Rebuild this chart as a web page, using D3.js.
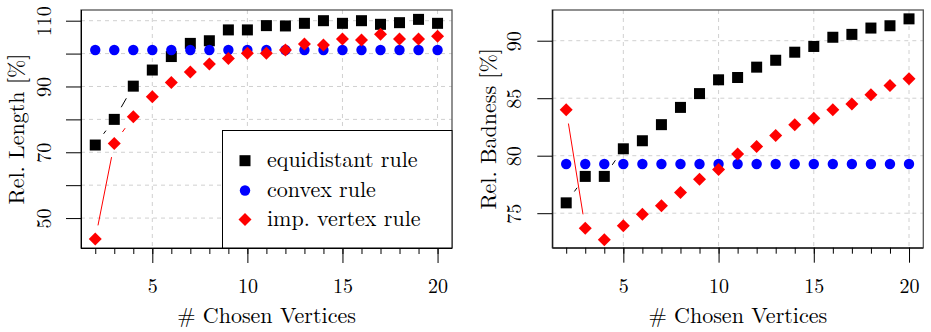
<!DOCTYPE html>
<html>
<head>
<meta charset="utf-8">
<script src="https://cdn.jsdelivr.net/npm/d3@7.9.0/dist/d3.min.js"></script>
<style>
  body { margin: 0; background: #fff; }
</style>
</head>
<body>
<svg id="chart" width="931" height="332"></svg>
<script>
// x values shared by both panels
const vertices = d3.range(2, 21);

// Left panel: Rel. Length [%]
const lengthEquidistant = [72.2, 80.0, 90.1, 95.0, 99.1, 103.1, 103.9, 107.2, 107.2, 108.5,
                           108.4, 109.2, 110.0, 109.2, 110.0, 108.9, 109.4, 110.4, 109.2];
const lengthConvex = [101.1, 101.1, 101.1, 101.1, 101.1, 101.1, 101.1, 101.1, 101.1, 101.1,
                      101.1, 101.1, 101.1, 101.1, 101.1, 101.1, 101.1, 101.1, 101.1];
const lengthImpVertex = [43.6, 72.7, 80.8, 86.9, 91.2, 94.4, 96.8, 98.5, 100.1, 100.1,
                         101.1, 102.9, 102.6, 104.4, 104.1, 105.9, 104.4, 104.4, 105.3];

// Right panel: Rel. Badness [%]
const badnessEquidistant = [75.9, 78.2, 78.2, 80.6, 81.3, 82.7, 84.2, 85.4, 86.6, 86.8,
                            87.7, 88.3, 89.0, 89.5, 90.3, 90.55, 91.1, 91.3, 91.9];
const badnessConvex = [79.28, 79.28, 79.28, 79.28, 79.28, 79.28, 79.28, 79.28, 79.28, 79.28,
                       79.28, 79.28, 79.28, 79.28, 79.28, 79.28, 79.28, 79.28, 79.28];
const badnessImpVertex = [84.0, 73.7, 72.7, 73.9, 74.9, 75.65, 76.8, 77.95, 78.8, 80.15,
                          80.8, 81.75, 82.7, 83.25, 84.0, 84.5, 85.3, 86.1, 86.7];

const xTicks = [5, 10, 15, 20];
const lengthTicks = [50, 60, 70, 80, 90, 100, 110];
const lengthLabels = [50, 70, 90, 110];
const badnessTicks = [75, 80, 85, 90];

const seriesNames = ["equidistant rule", "convex rule", "imp. vertex rule"];
const seriesColors = ["#000000", "#0000ff", "#ff0000"];
const seriesShapes = ["square", "circle", "diamond"];

const serif = "Latin Modern Roman, Liberation Serif, serif";
const svg = d3.select("#chart");

function setFont(sel, size) {
    return sel.attr("font-family", serif).attr("font-size", size)
        .style("font-family", serif).style("font-size", size + "px");
}

function marker(g, shape, color, x, y) {
    if (shape === "square") {
        g.append("rect")
            .attr("x", x - 5.5).attr("y", y - 5.5)
            .attr("width", 11).attr("height", 11)
            .attr("fill", color);
    } else if (shape === "circle") {
        g.append("circle")
            .attr("cx", x).attr("cy", y).attr("r", 5.2)
            .attr("fill", color);
    } else {
        g.append("path")
            .attr("d", `M${x},${y - 6.5}L${x + 6.5},${y}L${x},${y + 6.5}L${x - 6.5},${y}Z`)
            .attr("fill", color);
    }
}

function drawPanel(opts) {
    const x = d3.scaleLinear().domain(opts.xDomain).range([opts.left, opts.right]);
    const y = d3.scaleLinear().domain(opts.yDomain).range([opts.bottom, opts.top]);
    const g = svg.append("g");

    // Grid
    g.selectAll(".vgrid").data(xTicks).enter().append("line")
        .attr("x1", d => x(d)).attr("x2", d => x(d))
        .attr("y1", opts.top).attr("y2", opts.bottom)
        .attr("stroke", "#d0d0d0").attr("stroke-dasharray", "4,4");
    g.selectAll(".hgrid").data(opts.yTicks).enter().append("line")
        .attr("x1", opts.left).attr("x2", opts.right)
        .attr("y1", d => y(d)).attr("y2", d => y(d))
        .attr("stroke", "#d0d0d0").attr("stroke-dasharray", "4,4");

    // Box
    g.append("rect")
        .attr("x", opts.left).attr("y", opts.top)
        .attr("width", opts.right - opts.left).attr("height", opts.bottom - opts.top)
        .attr("fill", "none").attr("stroke", "#555").attr("stroke-width", 1.3);

    // X axis: minor ticks at every integer, longer ones at 5,10,15,20
    const xAxisMinor = d3.axisBottom(x).tickValues(vertices).tickSize(6).tickFormat("");
    g.append("g").attr("transform", `translate(0,${opts.bottom})`).call(xAxisMinor)
        .call(a => a.select(".domain").remove());
    const xAxis = d3.axisBottom(x).tickValues(xTicks).tickSize(15).tickPadding(16);
    const xa = g.append("g").attr("transform", `translate(0,${opts.bottom})`).call(xAxis);
    xa.select(".domain").attr("d", `M${opts.left},0.5H${opts.right}`);
    setFont(xa, 20);
    setFont(xa.selectAll("text"), 20);

    // Y axis
    const yAxis = d3.axisLeft(y).tickValues(opts.yTicks).tickSize(15)
        .tickFormat(d => opts.yLabels.includes(d) ? d : "");
    const ya = g.append("g").attr("transform", `translate(${opts.left},0)`).call(yAxis);
    ya.select(".domain").attr("d", `M0.5,${opts.top}V${opts.bottom}`);
    setFont(ya, 20);
    setFont(ya.selectAll("text"), 20)
        .attr("text-anchor", "middle")
        .attr("x", null).attr("dy", null)
        .attr("transform", `translate(${-opts.labelOffset},0) rotate(-90)`);

    // Axis titles
    setFont(g.append("text"), 22)
        .attr("x", (opts.left + opts.right) / 2).attr("y", 323)
        .attr("text-anchor", "middle")
        .text("# Chosen Vertices");
    setFont(g.append("text"), 22)
        .attr("transform", `translate(${opts.titleX},${(opts.top + opts.bottom) / 2}) rotate(-90)`)
        .attr("text-anchor", "middle")
        .text(opts.yTitle);

    // Series: R type "b" — lines with gaps around the points
    const gap = 14;
    opts.series.forEach((vals, i) => {
        const pts = vals.map((v, j) => [x(vertices[j]), y(v)]);
        for (let j = 0; j < pts.length - 1; j++) {
            const [x0, y0] = pts[j], [x1, y1] = pts[j + 1];
            const len = Math.hypot(x1 - x0, y1 - y0);
            if (len <= 2 * gap) continue;
            const ux = (x1 - x0) / len, uy = (y1 - y0) / len;
            g.append("line")
                .attr("x1", x0 + ux * gap).attr("y1", y0 + uy * gap)
                .attr("x2", x1 - ux * gap).attr("y2", y1 - uy * gap)
                .attr("stroke", seriesColors[i]).attr("stroke-width", 1);
        }
        pts.forEach(p => marker(g, seriesShapes[i], seriesColors[i], p[0], p[1]));
    });

    return g;
}

drawPanel({
    left: 81, right: 452, top: 10, bottom: 248,
    xDomain: [1.25, 20.76], yDomain: [40.9, 113.25],
    yTicks: lengthTicks, yLabels: lengthLabels,
    labelOffset: 30, titleX: 24, yTitle: "Rel. Length [%]",
    series: [lengthEquidistant, lengthConvex, lengthImpVertex]
});

drawPanel({
    left: 552.3, right: 923.3, top: 10, bottom: 247.7,
    xDomain: [1.27, 20.75], yDomain: [72.0, 92.67],
    yTicks: badnessTicks, yLabels: badnessTicks,
    labelOffset: 31, titleX: 496, yTitle: "Rel. Badness [%]",
    series: [badnessEquidistant, badnessConvex, badnessImpVertex]
});

// Legend in the left panel
const legend = svg.append("g");
legend.append("rect")
    .attr("x", 222.5).attr("y", 130.5).attr("width", 229.5).attr("height", 117.5)
    .attr("fill", "#fff").attr("stroke", "#000").attr("stroke-width", 1);
const legendY = [160.7, 190.5, 219.5];
seriesNames.forEach((name, i) => {
    marker(legend, seriesShapes[i], seriesColors[i], 245, legendY[i]);
    setFont(legend.append("text"), 22)
        .attr("x", 267).attr("y", legendY[i] + 6)
        .text(name);
});
</script>
</body>
</html>
